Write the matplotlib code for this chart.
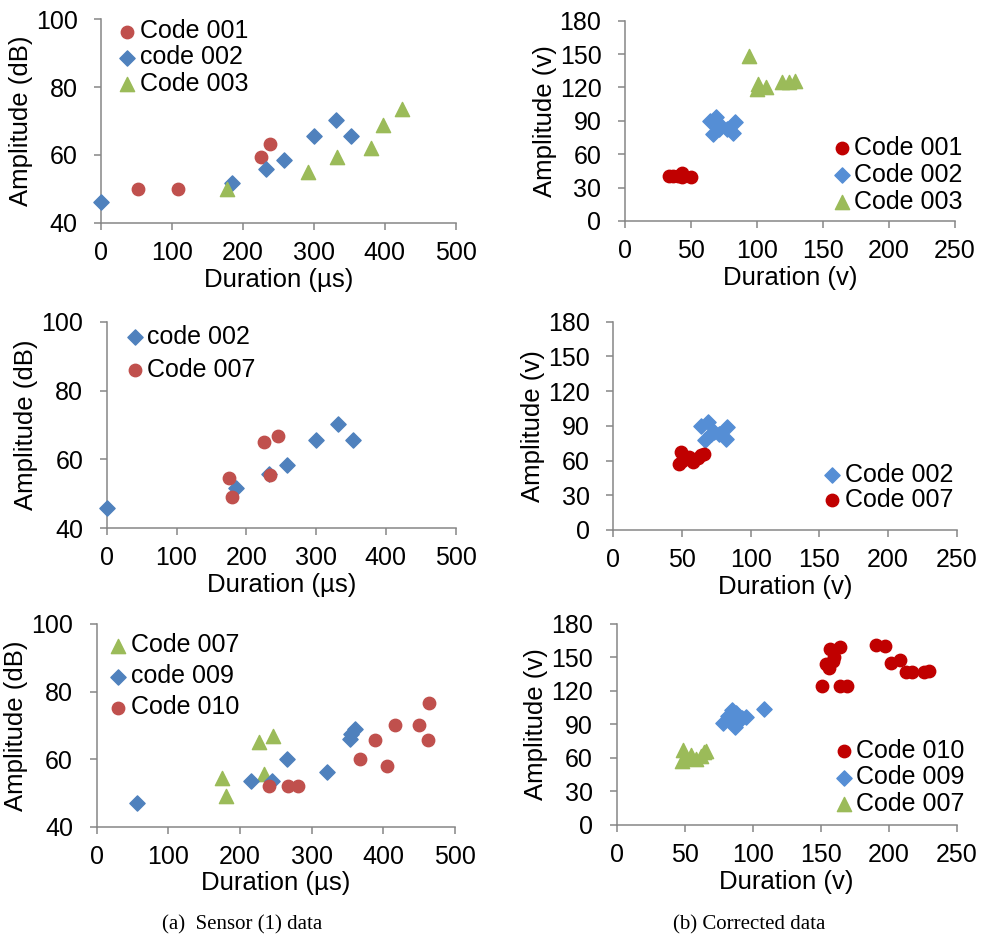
import matplotlib
matplotlib.use('Agg')
import matplotlib.pyplot as plt

plt.rcParams['font.family'] = ['Liberation Sans', 'DejaVu Sans']

# ---- sensor (1) data: duration (us) vs amplitude (dB)
s_c001_x = [52, 108, 225, 238]
s_c001_y = [50, 50, 59.5, 63.3]
s_c002_x = [0, 185, 232, 258, 300, 331, 353]
s_c002_y = [46, 51.6, 55.8, 58.4, 65.7, 70.2, 65.7]
s_c003_x = [178, 292, 333, 381, 398, 425]
s_c003_y = [49.8, 55, 59.3, 62, 68.8, 73.5]
s_c007_x = [175, 180, 226, 246, 234]
s_c007_y = [54.5, 49, 65, 66.8, 55.6]
s_c009_x = [56, 216, 244, 265, 322, 353, 355, 360]
s_c009_y = [47, 53.4, 53.6, 59.9, 56.2, 66, 67.3, 69]
s_c010_x = [240, 267, 281, 368, 388, 405, 416, 450, 462, 464]
s_c010_y = [52.1, 52.1, 52.1, 59.9, 65.6, 58, 70.1, 70.1, 65.6, 76.6]

# ---- corrected data: duration (v) vs amplitude (v)
c_c001_x = [33, 36, 40, 43, 43, 50]
c_c001_y = [40.5, 40, 40, 43.5, 39.8, 39.2]
c_c002_x = [64, 69, 67, 73, 83, 82, 77, 71]
c_c002_y = [90, 93, 78, 85, 89, 79, 83, 83]
c_c003_x = [94, 100, 101, 107, 119, 124, 129]
c_c003_y = [148, 119, 123, 120, 125, 125, 126]
c_c007_x = [49, 48, 50, 55, 58, 62, 64, 66]
c_c007_y = [67, 57, 60, 63, 59, 62, 65, 66]
c_c009_x = [78, 82, 85, 87, 88, 92, 95, 108, 85]
c_c009_y = [91, 98, 103, 88, 100, 96, 97, 104, 94]
c_c010_x = [151, 164, 169, 154, 159, 157, 164, 191, 197, 202, 208, 213, 217, 226, 230, 156, 160]
c_c010_y = [124, 124, 124, 144, 147, 158, 159, 161, 160, 145, 148, 137, 137, 137, 138, 141, 150]

RED, BLUE, GREEN = '#C0504D', '#4F81BD', '#9BBB59'
DRED, LBLUE = '#C00000', '#558ED5'
GRAY = '#868686'

fig = plt.figure(figsize=(9.82, 9.38), dpi=100)


def style(ax, xlim, xticks, ylim, yticks, xlabel, ylabel):
    ax.set_xlim(xlim)
    ax.set_ylim(ylim)
    ax.set_xticks(xticks)
    ax.set_yticks(yticks)
    for s in ('top', 'right'):
        ax.spines[s].set_visible(False)
    for s in ('left', 'bottom'):
        ax.spines[s].set_color(GRAY)
        ax.spines[s].set_linewidth(1.1)
    ax.tick_params(direction='out', length=5, width=1.1, color=GRAY, labelsize=18)
    ax.tick_params(axis='x', pad=8)
    ax.tick_params(axis='y', pad=12)
    ax.set_xlabel(xlabel, fontsize=18.5, labelpad=2)
    ax.set_ylabel(ylabel, fontsize=18.5, labelpad=2)


def sc(ax, x, y, m, c, label, s=80):
    ax.scatter(x, y, marker=m, s=s, color=c, label=label, clip_on=False, zorder=3)


def leg(ax, loc, anchor, spacing):
    ax.legend(loc=loc, bbox_to_anchor=anchor, frameon=False, fontsize=18,
              handletextpad=0.1, handlelength=0.8, labelspacing=spacing,
              borderaxespad=0, borderpad=0)


xs = [0, 100, 200, 300, 400, 500]
ys = [40, 60, 80, 100]
xc = [0, 50, 100, 150, 200, 250]
yc = [0, 30, 60, 90, 120, 150, 180]

# (a) top
ax1 = fig.add_axes([0.103, 0.7626, 0.361, 0.2168])
sc(ax1, s_c001_x, s_c001_y, 'o', RED, 'Code 001')
sc(ax1, s_c002_x, s_c002_y, 'D', BLUE, 'code 002', 60)
sc(ax1, s_c003_x, s_c003_y, '^', GREEN, 'Code 003', 105)
style(ax1, (0, 500), xs, (40, 100), ys, 'Duration (µs)', 'Amplitude (dB)')
leg(ax1, 'upper left', (0.045, 1.001), 0.09)

# (b) top
ax2 = fig.add_axes([0.6365, 0.7644, 0.336, 0.2136])
sc(ax2, c_c001_x, c_c001_y, 'o', DRED, 'Code 001')
sc(ax2, c_c002_x, c_c002_y, 'D', LBLUE, 'Code 002', 60)
sc(ax2, c_c003_x, c_c003_y, '^', GREEN, 'Code 003', 105)
style(ax2, (0, 250), xc, (0, 180), yc, 'Duration (v)', 'Amplitude (v)')
leg(ax2, 'lower right', (1.024, 0.035), 0.12)

# (a) middle
ax3 = fig.add_axes([0.1087, 0.4368, 0.3553, 0.2202])
sc(ax3, s_c002_x, s_c002_y, 'D', BLUE, 'code 002', 60)
sc(ax3, s_c007_x, s_c007_y, 'o', RED, 'Code 007')
style(ax3, (0, 500), xs, (40, 100), ys, 'Duration (µs)', 'Amplitude (dB)')
leg(ax3, 'upper left', (0.052, 0.984), 0.34)

# (b) middle
ax4 = fig.add_axes([0.6245, 0.435, 0.3497, 0.222])
sc(ax4, c_c002_x, c_c002_y, 'D', LBLUE, 'Code 002', 60)
sc(ax4, c_c007_x, c_c007_y, 'o', DRED, 'Code 007')
style(ax4, (0, 250), xc, (0, 180), yc, 'Duration (v)', 'Amplitude (v)')
leg(ax4, 'lower right', (0.989, 0.086), 0.06)

# (a) bottom
ax5 = fig.add_axes([0.0985, 0.1187, 0.3648, 0.2161])
sc(ax5, s_c007_x, s_c007_y, '^', GREEN, 'Code 007', 105)
sc(ax5, s_c009_x, s_c009_y, 'D', BLUE, 'code 009', 60)
sc(ax5, s_c010_x, s_c010_y, 'o', RED, 'Code 010')
style(ax5, (0, 500), xs, (40, 100), ys, 'Duration (µs)', 'Amplitude (dB)')
leg(ax5, 'upper left', (0.032, 0.955), 0.28)

# (b) bottom
ax6 = fig.add_axes([0.628, 0.1205, 0.3462, 0.2143])
sc(ax6, c_c010_x, c_c010_y, 'o', DRED, 'Code 010')
sc(ax6, c_c009_x, c_c009_y, 'D', LBLUE, 'Code 009', 60)
sc(ax6, c_c007_x, c_c007_y, '^', GREEN, 'Code 007', 105)
style(ax6, (0, 250), xc, (0, 180), yc, 'Duration (v)', 'Amplitude (v)')
leg(ax6, 'lower right', (1.024, 0.045), 0.10)

fig.text(0.247, 0.004, '(a)  Sensor (1) data', ha='center', va='bottom',
         family=['Liberation Serif', 'DejaVu Serif'], fontsize=15)
fig.text(0.763, 0.004, '(b) Corrected data', ha='center', va='bottom',
         family=['Liberation Serif', 'DejaVu Serif'], fontsize=15)

fig.savefig('out.png', dpi=100)
